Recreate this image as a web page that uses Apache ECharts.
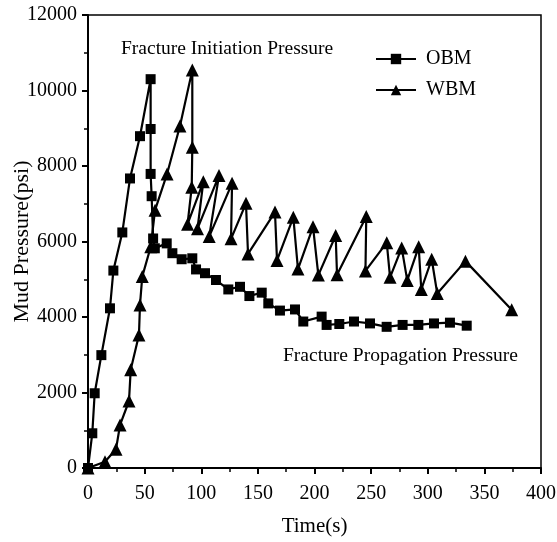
<!DOCTYPE html>
<html>
<head>
<meta charset="utf-8">
<script src="https://cdn.jsdelivr.net/npm/echarts@6/dist/echarts.min.js"></script>
<style>html,body{margin:0;padding:0;background:#fff}#c{width:557px;height:542px}</style>
</head>
<body>
<div id="c"></div>
<script>
var obmTime = [0, 3.8, 5.9, 11.8, 19.4, 22.4, 30.3, 37.1, 45.9, 55.3, 55.3, 55.3, 56.2, 57.5, 59, 69.5, 74.5, 82.7, 92.1, 95.4, 103.3, 113, 123.9, 134.2, 142.5, 153.4, 159.2, 169.5, 182.8, 190.1, 206.3, 210.7, 221.9, 234.9, 249, 263.7, 277.8, 291.7, 305.5, 319.6, 334.4];
var obmPressure = [0, 920, 1980, 2990, 4230, 5230, 6240, 7670, 8790, 10300, 8980, 7790, 7200, 6080, 5820, 5950, 5690, 5530, 5555, 5260, 5160, 4980, 4730, 4800, 4555, 4645, 4360, 4170, 4200, 3880, 4010, 3790, 3815, 3880, 3830, 3740, 3790, 3790, 3830, 3850, 3770];
var wbmTime = [0, 15.0, 24.7, 28.3, 36.2, 37.7, 45.0, 45.9, 47.9, 55.4, 59.2, 69.8, 81.2, 92.1, 92.1, 91.6, 87.9, 101.8, 96.7, 115.7, 107, 127.2, 126.3, 139.5, 141.3, 165.1, 166.9, 181.3, 185.4, 198.7, 203.4, 218.7, 219.9, 245.7, 245, 263.8, 266.7, 277, 281.9, 292, 294.3, 303.5, 308.4, 333.3, 374.1];
var wbmPressure = [0, 167, 495, 1140, 1775, 2600, 3520, 4320, 5070, 5860, 6830, 7790, 9060, 10540, 8500, 7440, 6460, 7580, 6340, 7750, 6130, 7540, 6070, 7010, 5670, 6780, 5500, 6640, 5270, 6390, 5110, 6160, 5120, 6660, 5220, 5970, 5050, 5830, 4970, 5860, 4730, 5530, 4620, 5480, 4190];
var xTicks = [0, 50, 100, 150, 200, 250, 300, 350, 400];
var yTicks = [0, 2000, 4000, 6000, 8000, 10000, 12000];
var seriesNames = ['OBM', 'WBM'];
var annotations = ['Fracture Initiation Pressure', 'Fracture Propagation Pressure'];
var xTitle = 'Time(s)';
var yTitle = 'Mud Pressure(psi)';

function pairs(a, b) { return a.map(function (v, i) { return [v, b[i]]; }); }

var font = '"Liberation Serif", "DejaVu Serif", serif';
var chart = echarts.init(document.getElementById('c'), null, {renderer: 'canvas'});
chart.setOption({
  animation: false,
  backgroundColor: '#fff',
  grid: {left: 88, right: 16, top: 15, bottom: 74, outerBoundsMode: 'none', containLabel: false,
         show: true, borderColor: '#000', borderWidth: 1.5, backgroundColor: 'transparent'},
  legend: {
    data: seriesNames,
    orient: 'vertical',
    left: 370,
    top: 44,
    itemWidth: 40,
    itemHeight: 13,
    itemGap: 11,
    textStyle: {fontFamily: font, fontSize: 20, color: '#000', padding: [0, 0, 0, 5]}
  },
  xAxis: {
    type: 'value', min: xTicks[0], max: xTicks[xTicks.length - 1], interval: 50,
    name: xTitle, nameLocation: 'middle', nameGap: 48, nameMoveOverlap: false,
    nameTextStyle: {fontFamily: font, fontSize: 21, color: '#000'},
    axisLine: {onZero: false, lineStyle: {color: '#000', width: 2}},
    axisTick: {show: true, inside: false, length: 6, lineStyle: {width: 2, color: '#000'}},
    minorTick: {show: true, splitNumber: 2, length: 4, lineStyle: {width: 1.5, color: '#000'}},
    axisLabel: {fontFamily: font, fontSize: 20, color: '#000', margin: 16, formatter: function (v) { return String(v); }},
    splitLine: {show: false}
  },
  yAxis: {
    type: 'value', min: yTicks[0], max: yTicks[yTicks.length - 1], interval: 2000,
    name: yTitle, nameLocation: 'middle', nameGap: 55, nameRotate: 90, nameMoveOverlap: false,
    nameTextStyle: {fontFamily: font, fontSize: 22, color: '#000'},
    axisLine: {onZero: false, lineStyle: {color: '#000', width: 2}},
    axisTick: {show: true, inside: false, length: 6, lineStyle: {width: 2, color: '#000'}},
    minorTick: {show: true, splitNumber: 2, length: 4, lineStyle: {width: 1.5, color: '#000'}},
    axisLabel: {fontFamily: font, fontSize: 20, color: '#000', margin: 11, formatter: function (v) { return String(v); }},
    splitLine: {show: false}
  },
  graphic: [
    {type: 'text', left: 121, top: 39, style: {text: annotations[0], font: '19.5px ' + font, fill: '#000'}},
    {type: 'text', left: 283, top: 346, style: {text: annotations[1], font: '19.5px ' + font, fill: '#000'}}
  ],
  series: [
    {
      name: seriesNames[0], type: 'line', data: pairs(obmTime, obmPressure),
      symbol: 'rect', symbolSize: 10, showAllSymbol: true,
      lineStyle: {color: '#000', width: 2.2}, itemStyle: {color: '#000'}
    },
    {
      name: seriesNames[1], type: 'line', data: pairs(wbmTime, wbmPressure),
      symbol: 'triangle', symbolSize: 13, showAllSymbol: true,
      lineStyle: {color: '#000', width: 2.2}, itemStyle: {color: '#000'}
    }
  ]
});
</script>
</body>
</html>
